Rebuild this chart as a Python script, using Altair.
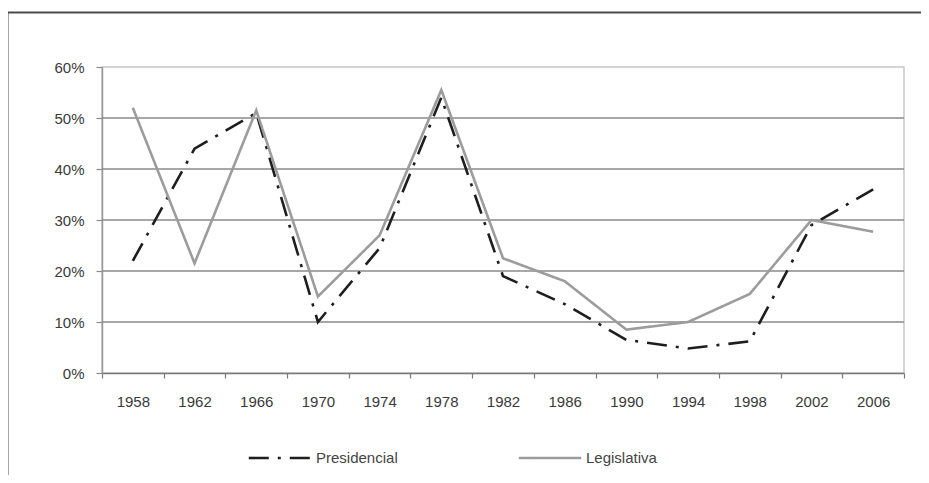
import altair as alt
import pandas as pd

years = [1958, 1962, 1966, 1970, 1974, 1978, 1982, 1986, 1990, 1994, 1998, 2002, 2006]
presidencial = [22, 44, 51, 10, 24.5, 54, 19, 13.5, 6.5, 4.8, 6.2, 29, 36]
legislativa = [52, 21.5, 51.5, 15, 27, 55.5, 22.5, 18, 8.5, 10, 15.5, 30, 27.7]
series = ["Presidencial", "Legislativa"]
y_ticks = [0, 10, 20, 30, 40, 50, 60]
grid_vals = [10, 20, 30, 40, 50]

rows = []
for y, p, l in zip(years, presidencial, legislativa):
    rows.append({"year": y, "serie": series[0], "v": p})
    rows.append({"year": y, "serie": series[1], "v": l})
df = pd.DataFrame(rows)

FONT = "Liberation Sans"

xscale = alt.Scale(type="band", paddingInner=0, paddingOuter=0)
yscale = alt.Scale(domain=[0, 60], nice=False)
yaxis = alt.Axis(title=None, values=y_ticks, labelExpr="datum.value + '%'",
                 grid=False, tickSize=6, labelPadding=12, domainColor="#9a9a9a",
                 domainWidth=1.5, tickColor="#8a8a8a", tickWidth=1.2,
                 labelFontSize=15, labelColor="#3a3a3a", labelFont=FONT)

grid = alt.Chart(pd.DataFrame({"v": grid_vals})).mark_rule(
    color="#8a8a8a", strokeWidth=1.6
).encode(y=alt.Y("v:Q", scale=yscale, axis=yaxis))

lines = alt.Chart(df).mark_line(strokeCap="butt", strokeJoin="miter").encode(
    x=alt.X("year:O", scale=xscale,
            axis=alt.Axis(title=None, labelAngle=0, tickBand="extent", tickSize=5,
                          labelPadding=16, domainColor="#7a7a7a", domainWidth=1.5,
                          tickColor="#7a7a7a", tickWidth=1.2, labelFontSize=15,
                          labelColor="#3a3a3a", labelFont=FONT)),
    y=alt.Y("v:Q", scale=yscale, axis=yaxis),
    color=alt.Color("serie:N", scale=alt.Scale(domain=series, range=["#1e1e1e", "#9c9c9c"]),
                    title=None),
    strokeDash=alt.StrokeDash("serie:N", scale=alt.Scale(domain=series, range=[[20, 9, 3, 9], [1, 0]]),
                              title=None),
    strokeWidth=alt.value(2.6),
)

frame_top = alt.Chart(alt.Data(values=[{}])).mark_rule(color="#4a4a4a", strokeWidth=2).encode(
    x=alt.value(-94.5), x2=alt.value(830), y=alt.value(-54.5)
)
frame_left = alt.Chart(alt.Data(values=[{}])).mark_rule(color="#4a4a4a", strokeWidth=2).encode(
    x=alt.value(-94.5), y=alt.value(-54.5), y2=alt.value(420)
)

chart = alt.layer(grid, lines, frame_top, frame_left).properties(
    width=802, height=306,
    autosize=alt.AutoSizeParams(type="none"),
    padding={"left": 94, "top": 59, "right": 17, "bottom": 102},
    background="white",
).configure_view(
    stroke="#c8c8c8", strokeWidth=1.5
).configure_legend(
    orient="none", legendX=145, legendY=358, direction="horizontal",
    symbolType="stroke", symbolSize=3900, symbolStrokeWidth=2.6,
    labelFontSize=15, labelColor="#444444", labelFont=FONT,
    columnPadding=115, labelOffset=3, padding=0,
)

chart.save("out.html", embed_options={"renderer": "svg", "actions": False})
